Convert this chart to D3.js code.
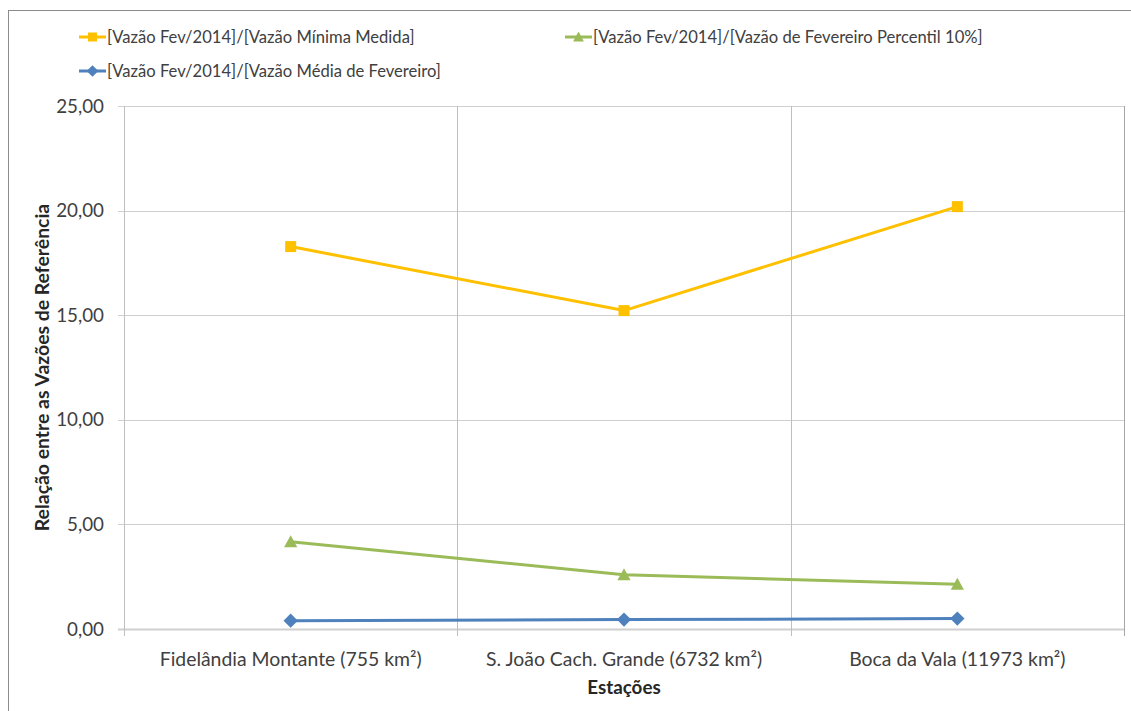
<!DOCTYPE html>
<html>
<head>
<meta charset="utf-8">
<script src="https://cdn.jsdelivr.net/npm/d3@7/dist/d3.min.js"></script>
<style>
  html, body { margin: 0; padding: 0; background: #fff; }
  svg { display: block; font-family: Lato, "Open Sans", sans-serif; }
</style>
</head>
<body>
<svg id="chart" width="1131" height="711"></svg>
<script>
// Stations along the river (category axis)
const stations = [
  "Fidelândia Montante (755 km²)",
  "S. João Cach. Grande (6732 km²)",
  "Boca da Vala (11973 km²)"
];
// Ratios of the Feb/2014 flow to each reference flow
const ratioMinMeasured = [18.28, 15.22, 20.19];
const ratioFebP10 = [4.17, 2.59, 2.14];
const ratioFebMean = [0.40, 0.45, 0.50];
const yTicks = [0, 5, 10, 15, 20, 25];

const series = [
  { name: "[Vazão Fev/2014]/[Vazão Mínima Medida]", values: ratioMinMeasured, color: "#FFC000", marker: "square" },
  { name: "[Vazão Fev/2014]/[Vazão de Fevereiro Percentil 10%]", values: ratioFebP10, color: "#9BBB59", marker: "triangle" },
  { name: "[Vazão Fev/2014]/[Vazão Média de Fevereiro]", values: ratioFebMean, color: "#4F81BD", marker: "diamond" }
];

const svg = d3.select("#chart");
const plot = { left: 124, top: 106, right: 1124, bottom: 629 };
const FS_AXIS = 18.8;
const FS_LEGEND = 16.6;

// outer frame
svg.append("rect")
  .attr("x", 8.5).attr("y", 10.5)
  .attr("width", 1140).attr("height", 720)
  .attr("fill", "none").attr("stroke", "#8c8c8c").attr("stroke-width", 1);

const x = d3.scaleBand().domain(stations).range([plot.left, plot.right]).paddingInner(0).paddingOuter(0);
const y = d3.scaleLinear().domain([0, 25]).range([plot.bottom, plot.top]);

const fmt = v => d3.format(".2f")(v).replace(".", ",");

// horizontal gridlines
svg.append("g").selectAll("line").data(yTicks).join("line")
  .attr("x1", plot.left - 6).attr("x2", plot.right)
  .attr("y1", d => Math.round(y(d)) + 0.5).attr("y2", d => Math.round(y(d)) + 0.5)
  .attr("stroke", d => d === 0 ? "#d0d0d0" : "#cfcfcf").attr("stroke-width", d => d === 0 ? 2 : 1);

// vertical gridlines at category boundaries
const bounds = stations.map(s => x(s)).concat([x.range()[1]]);
svg.append("g").selectAll("line").data(bounds).join("line")
  .attr("x1", d => Math.round(d) + 0.5).attr("x2", d => Math.round(d) + 0.5)
  .attr("y1", plot.top).attr("y2", plot.bottom + 7)
  .attr("stroke", (d, i) => i === bounds.length - 1 ? "#a6a6a6" : "#bfbfbf").attr("stroke-width", 1);

// y tick labels
svg.append("g").selectAll("text").data(yTicks).join("text")
  .attr("x", 104).attr("y", d => y(d))
  .attr("dy", "0.35em")
  .attr("text-anchor", "end")
  .attr("font-size", FS_AXIS).attr("fill", "#404040")
  .text(fmt);

// category labels
svg.append("g").selectAll("text").data(stations).join("text")
  .attr("x", d => x(d) + x.bandwidth() / 2).attr("y", 659)
  .attr("dy", "0.35em")
  .attr("text-anchor", "middle")
  .attr("font-size", FS_AXIS + 0.6).attr("fill", "#404040")
  .text(d => d);

// axis titles
svg.append("text")
  .attr("x", (plot.left + plot.right) / 2).attr("y", 687)
  .attr("dy", "0.35em").attr("text-anchor", "middle")
  .attr("font-size", FS_AXIS).attr("font-weight", "bold").attr("fill", "#262626")
  .text("Estações");
svg.append("text")
  .attr("transform", `translate(42,${(plot.top + plot.bottom) / 2}) rotate(-90)`)
  .attr("dy", "0.35em").attr("text-anchor", "middle")
  .attr("font-size", FS_AXIS + 0.6).attr("font-weight", "bold").attr("fill", "#262626")
  .text("Relação entre as Vazões de Referência");

function marker(g, type, color, size) {
  if (type === "square") {
    g.append("rect").attr("x", -size / 2).attr("y", -size / 2).attr("width", size).attr("height", size).attr("fill", color);
  } else if (type === "triangle") {
    const h = size;
    g.append("path").attr("d", `M0,${-h * 0.6}L${h * 0.6},${h * 0.5}L${-h * 0.6},${h * 0.5}Z`).attr("fill", color);
  } else {
    const r = size * 0.65;
    g.append("path").attr("d", `M0,${-r}L${r},0L0,${r}L${-r},0Z`).attr("fill", color);
  }
}

const line = d3.line().x((d, i) => x(stations[i]) + x.bandwidth() / 2).y(d => y(d));

series.forEach(s => {
  svg.append("path").datum(s.values)
    .attr("d", line).attr("fill", "none")
    .attr("stroke", s.color).attr("stroke-width", 3).attr("stroke-linejoin", "round");
  s.values.forEach((v, i) => {
    const g = svg.append("g").attr("transform", `translate(${x(stations[i]) + x.bandwidth() / 2},${y(v)})`);
    marker(g, s.marker, s.color, 11);
  });
});

// legend
const legendPos = [ { x: 79, y: 37 }, { x: 565, y: 37 }, { x: 79, y: 71 } ];
series.forEach((s, i) => {
  const p = legendPos[i];
  const g = svg.append("g").attr("transform", `translate(${p.x},${p.y})`);
  g.append("line").attr("x1", 0).attr("x2", 27).attr("y1", 0).attr("y2", 0)
    .attr("stroke", s.color).attr("stroke-width", 3);
  const mg = g.append("g").attr("transform", "translate(13.5,0)");
  marker(mg, s.marker, s.color, 9);
  g.append("text").attr("x", 28).attr("y", 0).attr("dy", "0.35em")
    .attr("font-size", FS_LEGEND).attr("fill", "#404040").text(s.name);
});
</script>
</body>
</html>
